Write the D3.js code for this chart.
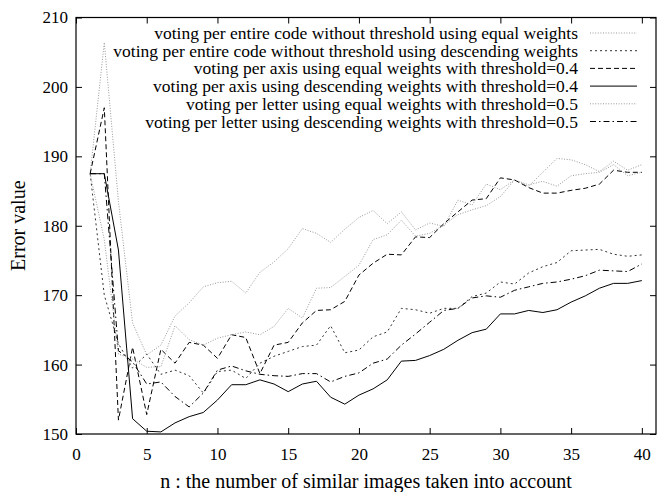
<!DOCTYPE html>
<html>
<head>
	<meta charset=utf-8>
	<title>Error value vs n</title>
	<script src="https://d3js.org/d3.v7.min.js"></script>
	<style type="text/css">
		body{
			margin: 0;
			background: #fff;
		}
		svg text{
			font-family: "Liberation Serif", "Times New Roman", serif;
			fill: #000;
		}
	</style>
</head>
<body>
	<div id="chart"></div>

	<script type="text/javascript">
		// n = 1..40
		const nValues = d3.range(1, 41);

		const seriesNames = [
			'voting per entire code without threshold using equal weights',
			'voting per entire code without threshold using descending weights',
			'voting per axis using equal weights with threshold=0.4',
			'voting per axis using descending weights with threshold=0.4',
			'voting per letter using equal weights with threshold=0.5',
			'voting per letter using descending weights with threshold=0.5'
		];

		const codeEqual = [187.5, 206.4, 183.5, 166.0, 161.4, 162.8, 167.0, 168.9, 171.2, 171.8,
			172.0, 170.3, 173.3, 174.8, 176.7, 179.6, 178.9, 177.6, 179.5, 181.2,
			182.2, 180.3, 182.0, 179.4, 180.4, 179.9, 183.7, 183.0, 186.0, 185.2,
			186.6, 185.7, 187.7, 189.7, 189.5, 188.8, 187.8, 189.3, 188.0, 188.8];

		const codeDesc = [187.5, 170.0, 163.0, 159.5, 161.5, 158.6, 159.2, 158.4, 155.9, 159.0,
			159.2, 158.0, 160.2, 161.2, 161.9, 162.6, 162.8, 165.6, 161.7, 162.1,
			164.0, 164.7, 168.1, 167.9, 167.4, 168.1, 168.1, 169.8, 170.3, 171.9,
			171.6, 173.2, 174.1, 174.7, 176.4, 176.5, 176.6, 175.9, 175.6, 175.8];

		const axisEqual = [187.5, 197.0, 152.0, 162.5, 152.8, 162.2, 160.2, 163.2, 162.8, 160.9,
			164.3, 163.9, 158.7, 162.8, 163.2, 166.0, 167.8, 167.9, 169.1, 172.9,
			174.6, 175.9, 175.8, 178.4, 178.3, 180.3, 182.0, 183.7, 183.9, 186.9,
			186.6, 185.5, 184.7, 184.7, 185.1, 185.4, 186.0, 188.0, 187.7, 187.7];

		const axisDesc = [187.5, 187.5, 176.5, 152.2, 150.4, 150.3, 151.6, 152.5, 153.1, 154.9,
			157.1, 157.1, 157.8, 157.2, 156.1, 157.2, 157.6, 155.3, 154.3, 155.6,
			156.5, 157.8, 160.5, 160.6, 161.3, 162.2, 163.5, 164.6, 165.1, 167.3,
			167.3, 167.8, 167.5, 167.9, 169.0, 169.9, 171.0, 171.7, 171.7, 172.1];

		const letterEqual = [187.5, 178.0, 161.5, 160.8, 159.6, 159.7, 165.6, 163.6, 162.8, 163.8,
			164.3, 164.7, 164.3, 165.5, 168.1, 166.7, 171.0, 171.1, 172.7, 174.3,
			178.0, 178.7, 180.8, 178.5, 178.9, 180.1, 181.6, 182.3, 182.9, 184.2,
			186.6, 185.9, 186.4, 185.7, 187.2, 187.5, 187.7, 188.8, 187.2, 187.7];

		const letterDesc = [187.5, 187.5, 162.0, 160.4, 157.2, 157.5, 155.4, 153.9, 155.9, 159.2,
			159.8, 159.1, 158.6, 158.4, 158.3, 158.7, 158.7, 157.5, 158.3, 158.8,
			160.2, 160.8, 162.8, 164.4, 166.1, 167.8, 168.1, 169.6, 169.9, 169.7,
			170.7, 171.2, 171.7, 171.9, 172.3, 172.8, 173.6, 173.5, 173.4, 174.5];

		const xTicks = [0, 5, 10, 15, 20, 25, 30, 35, 40];
		const yTicks = [150, 160, 170, 180, 190, 200, 210];

		const allSeries = [codeEqual, codeDesc, axisEqual, axisDesc, letterEqual, letterDesc];

		// gnuplot-ish line types
		const styles = [
			{stroke: '#999', dash: '1,1.6'},
			{stroke: '#333', dash: '2,3'},
			{stroke: '#000', dash: '5,3'},
			{stroke: '#000', dash: null},
			{stroke: '#999', dash: '1,1.6'},
			{stroke: '#000', dash: '6,3,1.5,3'}
		];

		const width = 658, height = 492;
		const margin = {top: 17.5, right: 2, bottom: 58, left: 76};

		const x = d3.scaleLinear()
			.domain([0, 41])
			.range([margin.left, width - margin.right]);

		const y = d3.scaleLinear()
			.domain([150, 210])
			.range([height - margin.bottom, margin.top]);

		const svg = d3.select('#chart')
			.append('svg')
			.attr('width', width)
			.attr('height', height);

		// axes with inward ticks, mirrored on top and right
		const tick = 6;
		svg.append('g')
			.attr('transform', `translate(0, ${y(150)})`)
			.call(d3.axisBottom(x).tickValues(xTicks).tickSize(-tick).tickPadding(14))
			.call(g => g.select('.domain').remove());
		svg.append('g')
			.attr('transform', `translate(0, ${y(210)})`)
			.call(d3.axisTop(x).tickValues(xTicks).tickSize(-tick).tickFormat(''))
			.call(g => g.select('.domain').remove());
		svg.append('g')
			.attr('transform', `translate(${x(0)}, 0)`)
			.call(d3.axisLeft(y).tickValues(yTicks).tickSize(-tick).tickPadding(8))
			.call(g => g.select('.domain').remove());
		svg.append('g')
			.attr('transform', `translate(${x(41)}, 0)`)
			.call(d3.axisRight(y).tickValues(yTicks).tickSize(-tick).tickFormat(''))
			.call(g => g.select('.domain').remove());

		svg.selectAll('.tick line')
			.attr('stroke', '#000');
		svg.selectAll('.tick text')
			.attr('font-size', 17)
			.attr('font-family', '"Liberation Serif", serif');

		// frame
		svg.append('rect')
			.attr('x', x(0))
			.attr('y', y(210))
			.attr('width', x(41) - x(0))
			.attr('height', y(150) - y(210))
			.attr('fill', 'none')
			.attr('stroke', '#000')
			.attr('stroke-width', 1.2);

		const line = d3.line()
			.x((d, i) => x(nValues[i]))
			.y(d => y(d));

		svg.append('g')
			.selectAll('path')
			.data(allSeries)
			.enter()
			.append('path')
			.attr('d', line)
			.attr('fill', 'none')
			.attr('stroke', (d, i) => styles[i].stroke)
			.attr('stroke-width', 1)
			.attr('stroke-dasharray', (d, i) => styles[i].dash);

		// legend, text right aligned like gnuplot's key
		const legend = svg.append('g')
			.selectAll('g')
			.data(seriesNames)
			.enter()
			.append('g')
			.attr('transform', (d, i) => `translate(0, ${33 + i * 17.7})`);

		legend.append('text')
			.attr('x', 578)
			.attr('y', 6)
			.attr('font-size', 17.5)
			.attr('text-anchor', 'end')
			.text(d => d);

		legend.append('line')
			.attr('x1', 590)
			.attr('x2', 637)
			.attr('stroke', (d, i) => styles[i].stroke)
			.attr('stroke-width', 1)
			.attr('stroke-dasharray', (d, i) => styles[i].dash);

		// axis titles
		svg.append('text')
			.attr('x', (x(0) + x(41)) / 2)
			.attr('y', 488)
			.attr('font-size', 20)
			.attr('text-anchor', 'middle')
			.text('n : the number of similar images taken into account');

		svg.append('text')
			.attr('transform', `translate(25, ${(y(150) + y(210)) / 2}) rotate(-90)`)
			.attr('font-size', 20)
			.attr('text-anchor', 'middle')
			.text('Error value');
	</script>
</body>
</html>
